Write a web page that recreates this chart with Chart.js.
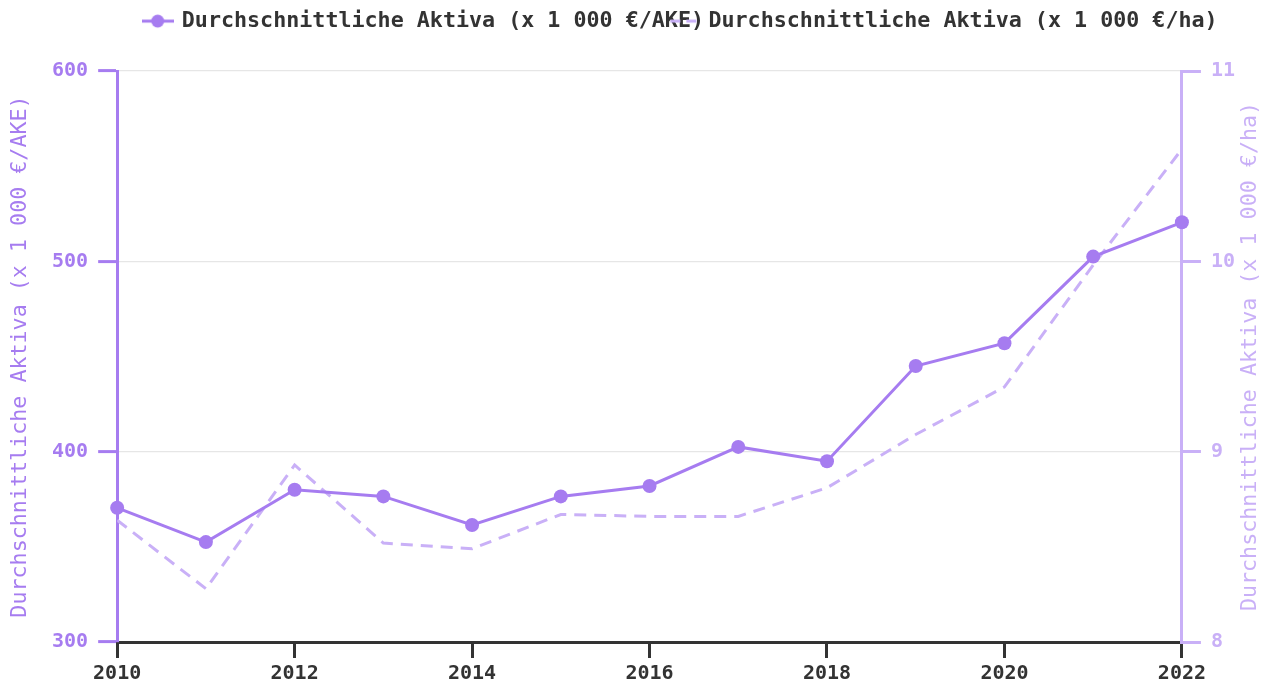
<!DOCTYPE html>
<html>
<head>
<meta charset="utf-8">
<script src="https://cdn.jsdelivr.net/npm/chart.js@4.4.1/dist/chart.umd.min.js"></script>
<style>
  html, body { margin: 0; padding: 0; background: #ffffff; }
  #wrap { width: 1270px; height: 682px; }
</style>
</head>
<body>
<div id="wrap"><canvas id="c" width="1270" height="682"></canvas></div>
<script>
const years = [2010, 2011, 2012, 2013, 2014, 2015, 2016, 2017, 2018, 2019, 2020, 2021, 2022];
const aktivaAKE = [370.5, 352.5, 380, 376.5, 361.5, 376.5, 382, 402.5, 395, 445, 457, 502.5, 520.5];
const aktivaHa = [8.64, 8.28, 8.93, 8.52, 8.49, 8.67, 8.66, 8.66, 8.81, 9.09, 9.34, 9.98, 10.59];
const seriesNames = ['Durchschnittliche Aktiva (x 1 000 €/AKE)', 'Durchschnittliche Aktiva (x 1 000 €/ha)'];
const xTicks = [2010, 2012, 2014, 2016, 2018, 2020, 2022];
const yLeftTicks = [300, 400, 500, 600];
const yRightTicks = [8, 9, 10, 11];

const PURPLE = '#a67cf0';
const LIGHT = '#c9b0f7';
const FONT = "'DejaVu Sans Mono', monospace";
const TITLE_SIZE = 21.7;

function iconSolid() {
  const c = document.createElement('canvas');
  c.width = 32; c.height = 16;
  const g = c.getContext('2d');
  g.strokeStyle = PURPLE; g.lineWidth = 3;
  g.beginPath(); g.moveTo(0, 8); g.lineTo(32, 8); g.stroke();
  g.fillStyle = PURPLE;
  g.beginPath(); g.arc(16, 8, 6.5, 0, Math.PI * 2); g.fill();
  return c;
}
function iconDashed() {
  const c = document.createElement('canvas');
  c.width = 32; c.height = 16;
  const g = c.getContext('2d');
  g.strokeStyle = LIGHT; g.lineWidth = 3;
  g.setLineDash([10, 6]);
  g.beginPath(); g.moveTo(2, 8); g.lineTo(32, 8); g.stroke();
  return c;
}
const icons = [iconSolid(), iconDashed()];

const legendPatch = {
  id: 'legendPatch',
  afterInit(chart) {
    const lg = chart.legend;
    if (!lg || lg._patched) return;
    const origFit = lg.fit;
    lg.fit = function () {
      const mw = this.maxWidth;
      this.maxWidth = 5000;
      origFit.call(this);
      this.maxWidth = mw;
      this.width = mw;
      this.height = 85.5;
    };
    const origDraw = lg.draw;
    lg.draw = function (area) {
      const ctx = chart.ctx;
      const origFill = ctx.fillText;
      ctx.fillText = function (t, x, y, mw) {
        const f = this.font;
        this.font = 'bold ' + TITLE_SIZE + 'px ' + FONT;
        if (mw === undefined) origFill.call(this, t, x, y); else origFill.call(this, t, x, y, mw);
        this.font = f;
      };
      const r = this.right, w = this.width;
      this.right = chart.width;
      this.width = this.right - this.left;
      origDraw.call(this, area);
      this.right = r;
      this.width = w;
      delete ctx.fillText;
    };
    lg._patched = true;
  }
};

const rightTitle = {
  id: 'rightTitle',
  afterDraw(chart) {
    const ctx = chart.ctx;
    const a = chart.chartArea;
    ctx.save();
    ctx.translate(chart.width - 20, (a.top + a.bottom) / 2);
    ctx.rotate(-Math.PI / 2);
    ctx.font = TITLE_SIZE + 'px ' + FONT;
    ctx.fillStyle = LIGHT;
    ctx.textAlign = 'center';
    ctx.textBaseline = 'middle';
    ctx.fillText(seriesNames[1], 0, 0);
    ctx.restore();
  }
};

new Chart(document.getElementById('c'), {
  type: 'line',
  data: {
    datasets: [
      {
        label: seriesNames[0],
        data: years.map((y, i) => ({ x: y, y: aktivaAKE[i] })),
        yAxisID: 'yL',
        borderColor: PURPLE,
        backgroundColor: PURPLE,
        borderWidth: 3,
        pointRadius: 7,
        pointHoverRadius: 7,
        pointBackgroundColor: PURPLE,
        pointBorderWidth: 0,
        tension: 0,
        clip: false,
        order: 1
      },
      {
        label: seriesNames[1],
        data: years.map((y, i) => ({ x: y, y: aktivaHa[i] })),
        yAxisID: 'yR',
        borderColor: LIGHT,
        backgroundColor: LIGHT,
        borderWidth: 3,
        borderDash: [12, 8],
        pointRadius: 0,
        tension: 0,
        order: 2
      }
    ]
  },
  options: {
    responsive: false,
    animation: false,
    layout: { padding: { top: -14.5, left: 0, right: 25, bottom: -8 } },
    plugins: {
      tooltip: { enabled: false },
      legend: {
        position: 'top',
        fullSize: false,
        align: 'start',
        labels: {
          usePointStyle: true,
          pointStyleWidth: 29,
          padding: 26,
          color: '#333333',
          font: { family: FONT, size: 19.2, weight: 'bold' },
          generateLabels(chart) {
            const items = Chart.defaults.plugins.legend.labels.generateLabels(chart);
            items.forEach((it, i) => { it.pointStyle = icons[i]; });
            return items;
          }
        }
      }
    },
    scales: {
      x: {
        type: 'linear',
        min: years[0],
        max: years[years.length - 1],
        afterBuildTicks(scale) { scale.ticks = xTicks.map(v => ({ value: v })); },
        ticks: {
          color: '#333333',
          font: { family: FONT, size: 20, weight: 'bold' },
          padding: 4,
          maxRotation: 0,
          callback: v => String(v)
        },
        grid: { drawOnChartArea: false, drawTicks: true, tickLength: 16, tickColor: '#333333', tickWidth: 3, lineWidth: 3 },
        border: { display: true, color: '#333333', width: 3 }
      },
      yL: {
        type: 'linear',
        position: 'left',
        min: 300,
        max: 600,
        afterBuildTicks(scale) { scale.ticks = yLeftTicks.map(v => ({ value: v })); },
        ticks: {
          color: PURPLE,
          font: { family: FONT, size: 20, weight: 'bold' },
          padding: 10
        },
        title: {
          display: true,
          text: seriesNames[0],
          color: PURPLE,
          font: { family: FONT, size: TITLE_SIZE, weight: 'normal' },
          padding: { top: 7, bottom: 9 }
        },
        grid: { color: '#e6e6e6', lineWidth: 1.2, tickColor: PURPLE, tickWidth: 3, tickLength: 19 },
        border: { display: true, color: PURPLE, width: 3 }
      },
      yR: {
        type: 'linear',
        position: 'right',
        min: 8,
        max: 11,
        afterBuildTicks(scale) { scale.ticks = yRightTicks.map(v => ({ value: v })); },
        ticks: {
          color: LIGHT,
          font: { family: FONT, size: 20, weight: 'bold' },
          padding: 10
        },
        grid: { drawOnChartArea: false, tickColor: LIGHT, tickWidth: 3, tickLength: 19, lineWidth: 3 },
        border: { display: true, color: LIGHT, width: 3 }
      }
    }
  },
  plugins: [legendPatch, rightTitle]
});
</script>
</body>
</html>
